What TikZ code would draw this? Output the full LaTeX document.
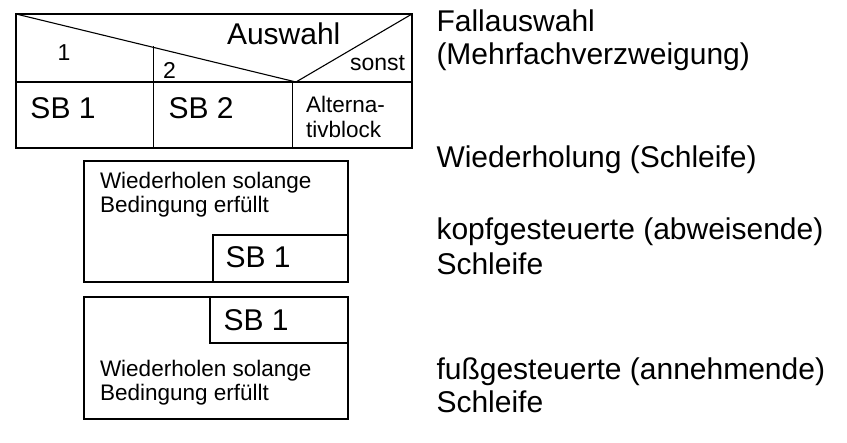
\documentclass[tikz,border=0pt]{standalone}
\usepackage{fontspec}
\setmainfont{Liberation Sans}
\begin{document}
\begin{tikzpicture}[x=1pt,y=-1pt,line width=1.1pt,
  txt/.style={anchor=base west,inner sep=0pt,outer sep=0pt},
  big/.style={txt,font=\fontsize{30}{34}\selectfont},
  mid/.style={txt,font=\fontsize{22.5}{24}\selectfont},
  sml/.style={txt,font=\fontsize{23}{24}\selectfont}]
\useasboundingbox (0,0) rectangle (847,443);

% --- case selection (Fallauswahl) ---
\coordinate (tl) at (16,14);
\coordinate (tr) at (412,14);
\coordinate (v) at (296,82);
\draw (16,14) rectangle (412,148);
\draw (16,82) -- (412,82);
\draw (tl) -- (v) -- (tr);
\draw (153.5,46.5) -- (153.5,148);
\draw (292.5,82) -- (292.5,148);
\node[big] (auswahl) at (227,45) {Auswahl};
\node[sml] (c1) at (57.5,61) {1};
\node[sml] (c2) at (163,79) {2};
\node[sml] (sonst) at (350,71) {sonst};
\node[big] (sb1) at (30.5,119) {SB 1};
\node[big] (sb2) at (168.5,119) {SB 2};
\node[mid] (alt1) at (306,113) {Alterna-};
\node[mid] (alt2) at (306,138) {tivblock};

% --- head-controlled loop ---
\draw (84,161) rectangle (348,282);
\draw (213,282) -- (213,235) -- (348,235);
\node[mid] (w1a) at (100,189) {Wiederholen solange};
\node[mid] (w1b) at (100,213) {Bedingung erfüllt};
\node[big] (lb1) at (225.5,268) {SB 1};

% --- foot-controlled loop ---
\draw (84,297) rectangle (348,419);
\draw (210,297) -- (210,343) -- (348,343);
\node[big] (lb2) at (223.5,331) {SB 1};
\node[mid] (w2a) at (100,377) {Wiederholen solange};
\node[mid] (w2b) at (100,401) {Bedingung erfüllt};

% --- captions ---
\node[big] (r1) at (436.5,32) {Fallauswahl};
\node[big] (r2) at (436.5,65) {(Mehrfachverzweigung)};
\node[big] (r3) at (436.5,168) {Wiederholung (Schleife)};
\node[big] (r4) at (436.5,240) {kopfgesteuerte (abweisende)};
\node[big] (r5) at (436.5,275) {Schleife};
\node[big] (r6) at (436.5,380) {fußgesteuerte (annehmende)};
\node[big] (r7) at (436.5,413) {Schleife};
\end{tikzpicture}
\end{document}
